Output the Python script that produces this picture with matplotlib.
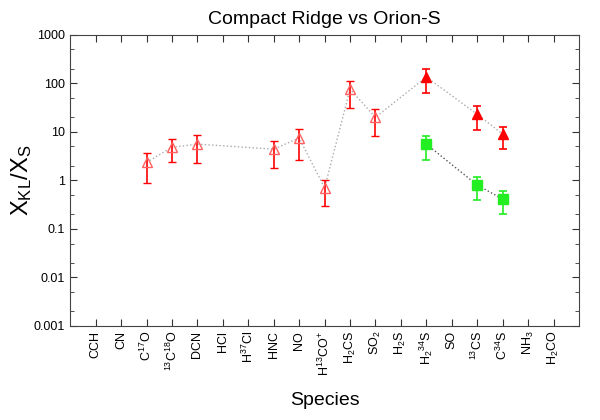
import matplotlib
matplotlib.use("Agg")
import matplotlib.pyplot as plt
import numpy as np

plt.rcParams['font.family'] = ['Liberation Sans', 'DejaVu Sans']
plt.rcParams['mathtext.fontset'] = 'custom'
plt.rcParams['mathtext.rm'] = 'Liberation Sans'
plt.rcParams['mathtext.it'] = 'Liberation Sans'

species = ["CCH", "CN", "C$^{17}$O", "$^{13}$C$^{18}$O", "DCN", "HCl", "H$^{37}$Cl",
           "HNC", "NO", "H$^{13}$CO$^{+}$", "H$_2$CS", "SO$_2$", "H$_2$S", "H$_2$$^{34}$S",
           "SO", "$^{13}$CS", "C$^{34}$S", "NH$_3$", "H$_2$CO"]

# open red triangles (species index, value, lower, upper)
open_idx = [2, 3, 4, 7, 8, 9, 10, 11]
open_val = [2.35, 4.8, 5.6, 4.4, 7.5, 0.7, 76, 20]
open_lo = [0.87, 2.35, 2.3, 1.8, 2.6, 0.3, 31, 8.2]
open_hi = [3.6, 7.1, 8.6, 6.4, 11.4, 1.0, 112, 29]

# filled red triangles
fill_idx = [13, 15, 16]
fill_val = [135, 23, 9.0]
fill_lo = [63, 10.8, 4.4]
fill_hi = [198, 34, 12.6]

# green squares
green_idx = [13, 15, 16]
green_val = [5.6, 0.8, 0.41]
green_lo = [2.6, 0.4, 0.2]
green_hi = [8.2, 1.15, 0.6]

fig = plt.figure(figsize=(6, 4.2), dpi=100)
ax = fig.add_axes([0.117, 0.224, 0.848, 0.693])

# connecting dotted line through all red points
all_idx = open_idx + fill_idx
all_val = open_val + fill_val
ax.plot(all_idx, all_val, ls=':', color='#aaaaaa', lw=1.0, zorder=1)
ax.plot(green_idx, green_val, ls=':', color='#555555', lw=1.0, zorder=1)

def yerr(v, lo, hi):
    v = np.array(v); return [v - np.array(lo), np.array(hi) - v]

ax.errorbar(open_idx, open_val, yerr=yerr(open_val, open_lo, open_hi), fmt='^',
            mfc='none', mec='#ff6060', ms=7, mew=1.0, ecolor='red', elinewidth=1.2,
            capsize=3, capthick=1.2, zorder=3)
ax.errorbar(fill_idx, fill_val, yerr=yerr(fill_val, fill_lo, fill_hi), fmt='^',
            color='red', ms=7, ecolor='red', elinewidth=1.2, capsize=3,
            capthick=1.2, zorder=3)
ax.errorbar(green_idx, green_val, yerr=yerr(green_val, green_lo, green_hi), fmt='s',
            color='#22ee22', ms=7, ecolor='#22ee22', elinewidth=1.2, capsize=3,
            capthick=1.2, zorder=3)

ax.set_yscale('log')
ax.set_ylim(0.001, 1000)
ax.set_xlim(-1, 19)
ax.set_xticks(range(len(species)))
ax.set_xticklabels(species, rotation=90, fontsize=9)
ax.set_yticks([0.001, 0.01, 0.1, 1, 10, 100, 1000])
ax.set_yticklabels(["0.001", "0.01", "0.1", "1", "10", "100", "1000"], fontsize=9)
ax.tick_params(which='both', direction='in', top=True, right=True, color='#333333')
ax.tick_params(which='major', length=5)
ax.tick_params(which='minor', length=3)
ax.yaxis.set_minor_locator(matplotlib.ticker.LogLocator(base=10, subs=[2, 5]))
ax.yaxis.set_minor_formatter(matplotlib.ticker.NullFormatter())
for s in ax.spines.values():
    s.set_color('#444444')

ax.set_title("Compact Ridge vs Orion-S", fontsize=14, pad=8)
fig.text(22 / 600, 0.571, "X$_{\\rm KL}$/X$_{\\rm S}$", fontsize=17, rotation=90,
         ha='center', va='center')
ax.set_xlabel("Species", fontsize=14, labelpad=12)

fig.savefig("out.png", dpi=100)
